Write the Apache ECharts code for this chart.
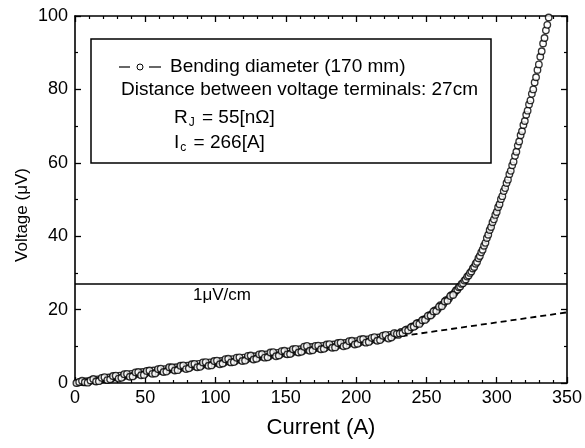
<!DOCTYPE html>
<html>
<head>
<meta charset="utf-8">
<script src="https://cdn.jsdelivr.net/npm/echarts@6/dist/echarts.min.js"></script>
<style>
  html, body { margin: 0; padding: 0; background: #fff; }
  #main { width: 585px; height: 448px; }
</style>
</head>
<body>
<div id="main"></div>
<script>
var current = [
  2, 4, 6, 8, 10, 12, 14, 16, 18, 20, 22, 24, 26, 28, 30, 32, 34, 36, 38, 40,
  42, 44, 46, 48, 50, 52, 54, 56, 58, 60, 62, 64, 66, 68, 70, 72, 74, 76, 78, 80,
  82, 84, 86, 88, 90, 92, 94, 96, 98, 100, 102, 104, 106, 108, 110, 112, 114, 116, 118, 120,
  122, 124, 126, 128, 130, 132, 134, 136, 138, 140, 142, 144, 146, 148, 150, 152, 154, 156, 158, 160,
  162, 164, 166, 168, 170, 172, 174, 176, 178, 180, 182, 184, 186, 188, 190, 192, 194, 196, 198, 200,
  202, 204, 206, 208, 210, 212, 214, 216, 218, 220, 222, 224, 226, 228,
  230, 232, 234, 236, 238, 240, 242, 244, 246, 248, 250, 252, 254, 256, 258, 260, 262, 264, 266, 268,
  270, 271, 272, 273, 274, 275, 276, 277, 278, 279, 280, 281, 282, 283, 284, 285, 286, 287, 288, 289,
  290, 291, 292, 293, 294, 295, 296, 297, 298, 299, 300, 301, 302, 303, 304, 305, 306, 307, 308, 309,
  310, 311, 312, 313, 314, 315, 316, 317, 318, 319, 320, 321, 322, 323, 324, 325, 326, 327, 328, 329,
  330, 331, 332, 333, 334, 335, 336, 337, 338
];
var voltage = [
  0.1, 0.3, 0.2, 0.5, 0.4, 0.8, 0.6, 1.0, 0.9, 1.3, 1.0, 1.5, 1.2, 1.7, 1.5, 2.0, 1.7, 2.3, 1.9, 2.5,
  2.1, 2.7, 2.4, 3.0, 2.6, 3.2, 2.8, 3.4, 3.0, 3.6, 3.2, 3.8, 3.5, 4.0, 3.7, 4.3, 3.9, 4.5, 4.1, 4.7,
  4.3, 5.0, 4.5, 5.2, 4.8, 5.4, 5.0, 5.6, 5.2, 5.8, 5.4, 6.0, 5.6, 6.2, 5.8, 6.5, 6.0, 6.7, 6.3, 6.9,
  6.5, 7.1, 6.7, 7.3, 6.9, 7.5, 7.1, 7.8, 7.3, 8.0, 7.6, 8.2, 7.8, 8.4, 8.0, 8.6, 8.2, 8.9, 8.5, 9.2,
  8.8, 9.6, 9.0, 9.8, 9.3, 9.9, 9.4, 10.1, 9.6, 10.3, 9.9, 10.5, 10.1, 10.7, 10.3, 10.9, 10.5, 11.2, 10.8, 11.4,
  11.0, 11.7, 11.2, 11.9, 11.5, 12.1, 11.8, 12.4, 12.1, 12.8, 12.4, 13.1, 12.8, 13.5,
  13.1, 13.9, 13.8, 14.6, 14.6, 15.4, 15.6, 16.4, 16.6, 17.3, 17.6, 18.5, 18.8, 19.8, 20.1, 21.2, 21.5, 22.6, 23.0, 24.0,
  24.6, 25.2, 25.4, 26.1, 26.3, 27.0, 27.2, 27.9, 28.2, 29.0, 29.3, 30.0, 30.4, 31.2, 31.6, 32.5, 33.0, 34.0, 34.6, 35.6,
  36.3, 37.4, 38.2, 39.5, 40.4, 41.7, 42.5, 43.8, 44.6, 45.8, 46.6, 47.9, 48.7, 50.1, 50.9, 52.3, 53.1, 54.5, 55.4, 56.9,
  57.8, 59.3, 60.3, 61.9, 63.0, 64.7, 65.8, 67.5, 68.6, 70.3, 71.4, 73.1, 74.2, 75.9, 77.0, 78.8, 80.0, 81.9, 83.3, 85.3,
  86.8, 88.9, 90.4, 92.5, 94.0, 96.1, 97.6, 99.6, 101.2
];
// second sweep, odd currents, lower part of the curve
var current2 = [
  1, 3, 5, 7, 9, 11, 13, 15, 17, 19, 21, 23, 25, 27, 29, 31, 33, 35, 37, 39,
  41, 43, 45, 47, 49, 51, 53, 55, 57, 59, 61, 63, 65, 67, 69, 71, 73, 75, 77, 79,
  81, 83, 85, 87, 89, 91, 93, 95, 97, 99, 101, 103, 105, 107, 109, 111, 113, 115, 117, 119,
  121, 123, 125, 127, 129, 131, 133, 135, 137, 139, 141, 143, 145, 147, 149, 151, 153, 155, 157, 159,
  161, 163, 165, 167, 169, 171, 173, 175, 177, 179, 181, 183, 185, 187, 189, 191, 193, 195, 197, 199,
  201, 203, 205, 207, 209, 211, 213, 215, 217, 219, 221, 223, 225, 227, 229,
  231, 233, 235, 237, 239, 241, 243, 245, 247, 249, 251, 253, 255, 257, 259, 261, 263, 265, 267, 269
];
var voltage2 = [
  0.0, 0.3, 0.6, 0.2, 0.1, 0.7, 1.1, 0.4, 0.5, 1.4, 1.6, 0.8, 1.0, 1.9, 2.0, 1.2, 1.4, 2.4, 2.5, 1.7,
  1.8, 2.9, 3.0, 2.1, 2.2, 3.3, 3.4, 2.5, 2.6, 3.8, 3.9, 3.0, 3.1, 4.3, 4.3, 3.4, 3.5, 4.7, 4.8, 3.8,
  4.0, 5.1, 5.2, 4.3, 4.4, 5.6, 5.7, 4.7, 4.8, 6.0, 6.1, 5.1, 5.3, 6.5, 6.6, 5.6, 5.7, 6.9, 7.0, 6.0,
  6.1, 7.4, 7.5, 6.4, 6.6, 7.8, 7.9, 6.9, 7.0, 8.3, 8.4, 7.3, 7.5, 8.7, 8.8, 7.8, 7.9, 9.2, 9.3, 8.3,
  8.5, 9.9, 10.1, 8.8, 8.9, 10.1, 10.2, 9.2, 9.3, 10.5, 10.6, 9.6, 9.7, 10.9, 11.0, 10.0, 10.2, 11.4, 11.5, 10.5,
  10.7, 11.9, 12.0, 11.0, 11.2, 12.3, 12.5, 11.5, 11.7, 12.9, 13.1, 12.1, 12.4, 13.6, 13.4,
  13.5, 13.6, 14.4, 14.3, 15.2, 15.3, 16.2, 16.1, 17.1, 17.2, 18.3, 18.4, 19.5, 19.6, 20.8, 20.9, 22.2, 22.4, 23.7, 24.0
];
// R_J = 55 nOhm -> ohmic line
var ohmicCurrent = [0, 350];
var ohmicVoltage = [0, 19.25];
// 1 uV/cm x 27 cm
var criterionVoltage = 27;

var xTicks = [0, 50, 100, 150, 200, 250, 300, 350];
var yTicks = [0, 20, 40, 60, 80, 100];

var points = [];
for (var i = 0; i < current.length; i++) {
    points.push([current[i], voltage[i]]);
}
for (var k = 0; k < current2.length; k++) {
    points.push([current2[k], voltage2[k]]);
}
var ohmic = [];
for (var j = 0; j < ohmicCurrent.length; j++) {
    ohmic.push([ohmicCurrent[j], ohmicVoltage[j]]);
}
var criterion = [[xTicks[0], criterionVoltage], [xTicks[xTicks.length - 1], criterionVoltage]];

var font = 'Liberation Sans, Arial, sans-serif';

function xAxisOpt(pos, labels) {
    return {
        type: 'value',
        position: pos,
        min: xTicks[0],
        max: xTicks[xTicks.length - 1],
        interval: 50,
        axisLine: { show: true, onZero: false, lineStyle: { color: '#000', width: 1.6 } },
        axisTick: { show: true, inside: true, length: 6, lineStyle: { color: '#000', width: 1.3 } },
        minorTick: { show: true, splitNumber: 5, length: 3, lineStyle: { color: '#000', width: 1.2 } },
        splitLine: { show: false },
        axisLabel: { show: labels, color: '#000', fontSize: 18, fontFamily: font, margin: 6 }
    };
}
function yAxisOpt(pos, labels) {
    return {
        type: 'value',
        position: pos,
        min: yTicks[0],
        max: yTicks[yTicks.length - 1],
        interval: 20,
        axisLine: { show: true, onZero: false, lineStyle: { color: '#000', width: 1.6 } },
        axisTick: { show: true, inside: true, length: 6, lineStyle: { color: '#000', width: 1.3 } },
        minorTick: { show: true, splitNumber: 2, length: 3, lineStyle: { color: '#000', width: 1.2 } },
        splitLine: { show: false },
        axisLabel: { show: labels, color: '#000', fontSize: 18, fontFamily: font, margin: 7 }
    };
}

var option = {
    backgroundColor: '#fff',
    animation: false,
    grid: { left: 75, top: 16, right: 17, bottom: 65, containLabel: false },
    xAxis: [xAxisOpt('bottom', true), xAxisOpt('top', false)],
    yAxis: [yAxisOpt('left', true), yAxisOpt('right', false)],
    series: [
        {
            name: 'ohmic',
            type: 'line',
            data: ohmic,
            symbol: 'none',
            silent: true,
            lineStyle: { color: '#000', width: 1.8, type: [6, 4] },
            z: 2
        },
        {
            name: 'criterion',
            type: 'line',
            data: criterion,
            symbol: 'none',
            silent: true,
            lineStyle: { color: '#000', width: 1.5 },
            z: 2
        },
        {
            name: 'Bending diameter (170 mm)',
            type: 'scatter',
            data: points,
            symbol: 'circle',
            symbolSize: 6.5,
            itemStyle: { color: '#fff', borderColor: '#000', borderWidth: 1.35 },
            emphasis: { disabled: true },
            z: 3
        }
    ],
    graphic: [
        // 图例框
        {
            type: 'rect', z: 100,
            shape: { x: 91, y: 39, width: 400, height: 124 },
            style: { fill: '#fff', stroke: '#000', lineWidth: 1.5 }
        },
        { type: 'line', z: 101, shape: { x1: 119, y1: 67, x2: 130, y2: 67 }, style: { stroke: '#000', lineWidth: 1.2 } },
        { type: 'circle', z: 101, shape: { cx: 140, cy: 67, r: 3 }, style: { fill: '#fff', stroke: '#000', lineWidth: 1 } },
        { type: 'line', z: 101, shape: { x1: 149, y1: 67, x2: 161, y2: 67 }, style: { stroke: '#000', lineWidth: 1.2 } },
        {
            type: 'text', z: 101, x: 170, y: 67,
            style: { text: 'Bending diameter (170 mm)', fill: '#000', font: '19px ' + font, textVerticalAlign: 'middle' }
        },
        {
            type: 'text', z: 101, x: 121, y: 90,
            style: { text: 'Distance between voltage terminals: 27cm', fill: '#000', font: '19px ' + font, textVerticalAlign: 'middle' }
        },
        {
            type: 'text', z: 101, x: 174, y: 118,
            style: {
                text: '{a|R}{s|J}{a| = 55[nΩ]}',
                verticalAlign: 'middle',
                rich: {
                    a: { fontSize: 19, fontFamily: font, color: '#000' },
                    s: { fontSize: 12, fontFamily: font, color: '#000', padding: [10, 2, 0, 1] }
                }
            }
        },
        {
            type: 'text', z: 101, x: 174, y: 143,
            style: {
                text: '{a|I}{s|c}{a| = 266[A]}',
                verticalAlign: 'middle',
                rich: {
                    a: { fontSize: 19, fontFamily: font, color: '#000' },
                    s: { fontSize: 12, fontFamily: font, color: '#000', padding: [10, 2, 0, 1] }
                }
            }
        },
        {
            type: 'text', z: 101, x: 193, y: 295,
            style: { text: '1μV/cm', fill: '#000', font: '17px ' + font, textVerticalAlign: 'middle' }
        },
        // 坐标轴标题
        {
            type: 'text', z: 101, x: 321, y: 428,
            style: { text: 'Current (A)', fill: '#000', font: '22px ' + font, textAlign: 'center', textVerticalAlign: 'middle' }
        },
        {
            type: 'text', z: 101, x: 22, y: 215, rotation: Math.PI / 2,
            style: { text: 'Voltage (μV)', fill: '#000', font: '17px ' + font, textAlign: 'center', textVerticalAlign: 'middle' }
        }
    ]
};

var chart = echarts.init(document.getElementById('main'));
chart.setOption(option);
</script>
</body>
</html>
